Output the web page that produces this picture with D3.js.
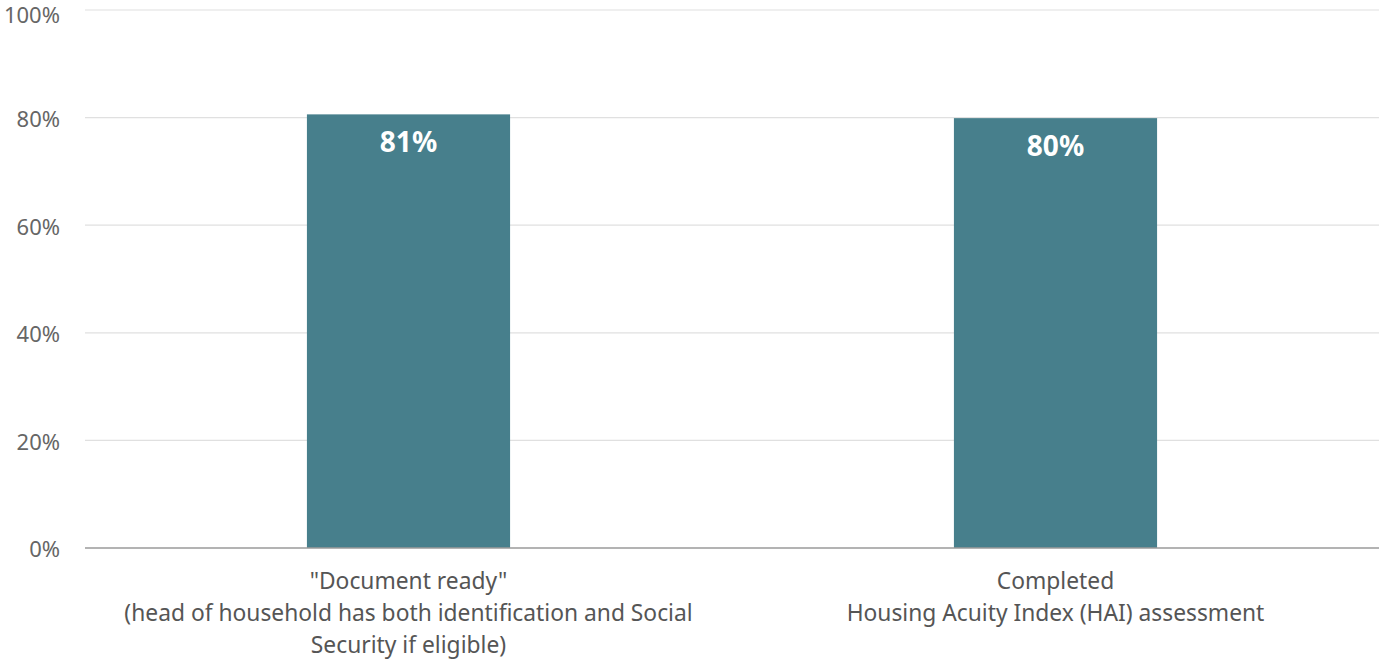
<!DOCTYPE html>
<html>
<head>
<meta charset="utf-8">
<script src="https://cdn.jsdelivr.net/npm/d3@7"></script>
<style>
  html, body { margin: 0; padding: 0; background: #fff; }
  svg { display: block; font-family: "Noto Sans", "Open Sans", sans-serif; }
</style>
</head>
<body>
<svg id="chart" width="1379" height="660"></svg>
<script>
// Share of households meeting each milestone
const categories = [
  ["\"Document ready\"", "(head of household has both identification and Social", "Security if eligible)"],
  ["Completed", "Housing Acuity Index (HAI) assessment"]
];
const values = [0.806, 0.799];
const tickValues = [0, 0.2, 0.4, 0.6, 0.8, 1.0];

const svg = d3.select("#chart");
const margin = { top: 10, right: 0, bottom: 112, left: 85 };
const W = 1379, H = 660;

const x = d3.scaleBand()
  .domain(d3.range(categories.length))
  .range([margin.left, W - margin.right])
  .padding(0);

const y = d3.scaleLinear()
  .domain([0, 1])
  .range([H - margin.bottom, margin.top]);

const barW = x.bandwidth() * 0.314;

// horizontal gridlines
svg.append("g")
  .selectAll("line")
  .data(tickValues.filter(d => d > 0))
  .join("line")
  .attr("x1", margin.left)
  .attr("x2", W - margin.right)
  .attr("y1", d => y(d))
  .attr("y2", d => y(d))
  .attr("stroke", "#e0e0e0")
  .attr("stroke-width", 1.2);

// y tick labels
svg.append("g")
  .selectAll("text")
  .data(tickValues)
  .join("text")
  .attr("x", 60)
  .attr("y", d => y(d) + (d === 1 ? 5 : 1.5))
  .attr("dy", "0.36em")
  .attr("text-anchor", "end")
  .attr("fill", "#666")
  .attr("font-size", 22)
  .text(d3.format(".0%"));

// bars
svg.append("g")
  .selectAll("rect")
  .data(values)
  .join("rect")
  .attr("x", (d, i) => x(i) + x.bandwidth() / 2 - barW / 2)
  .attr("width", barW)
  .attr("y", d => y(d))
  .attr("height", d => y(0) - y(d))
  .attr("fill", "#477f8c");

// value labels inside bars
svg.append("g")
  .selectAll("text")
  .data(values)
  .join("text")
  .attr("x", (d, i) => x(i) + x.bandwidth() / 2)
  .attr("y", d => y(d) + 38)
  .attr("text-anchor", "middle")
  .attr("fill", "#fff")
  .attr("font-weight", "bold")
  .attr("font-size", 28)
  .text(d3.format(".0%"));

// baseline
svg.append("line")
  .attr("x1", margin.left)
  .attr("x2", W - margin.right)
  .attr("y1", y(0))
  .attr("y2", y(0))
  .attr("stroke", "#9a9a9a")
  .attr("stroke-width", 1.5);

// category labels
const cat = svg.append("g")
  .selectAll("text")
  .data(categories)
  .join("text")
  .attr("x", (d, i) => x(i) + x.bandwidth() / 2)
  .attr("y", y(0) + 41)
  .attr("text-anchor", "middle")
  .attr("fill", "#555")
  .attr("font-size", 22.8);

cat.each(function(lines, i) {
  d3.select(this).selectAll("tspan")
    .data(lines)
    .join("tspan")
    .attr("x", x(i) + x.bandwidth() / 2)
    .attr("dy", (l, j) => j === 0 ? 0 : 32)
    .text(l => l);
});
</script>
</body>
</html>
